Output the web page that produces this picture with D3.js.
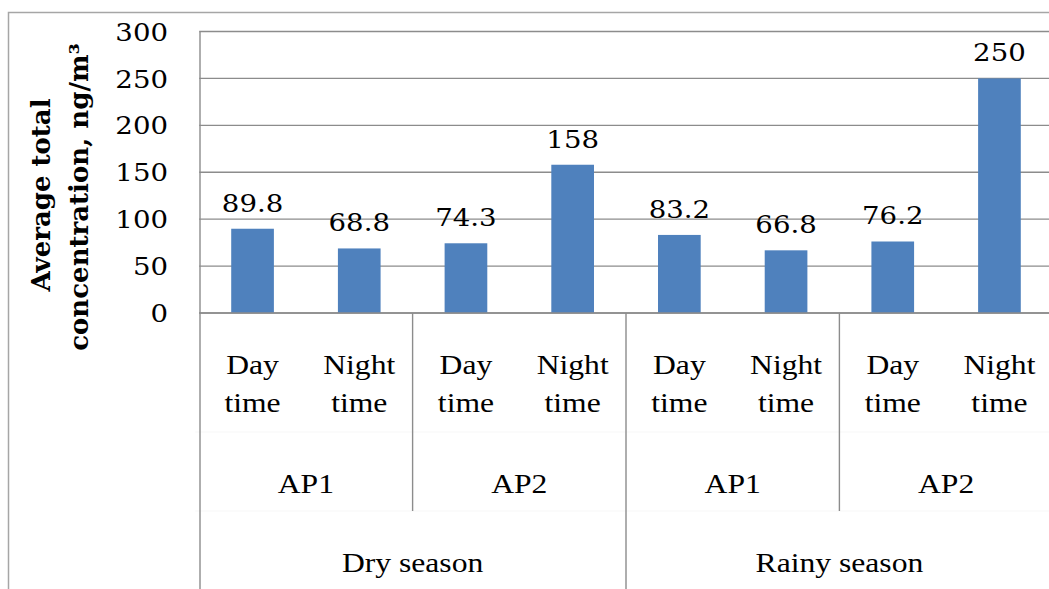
<!DOCTYPE html>
<html>
<head>
<meta charset="utf-8">
<script src="https://cdn.jsdelivr.net/npm/d3@7"></script>
<style>
  html, body { margin: 0; padding: 0; background: #fff; }
  svg { display: block; }
</style>
</head>
<body>
<svg id="chart"></svg>
<script>
// data
const seasons = ["Dry season", "Rainy season"];
const sites = ["AP1", "AP2"];
const periods = ["Day time", "Night time"];
const values = [89.8, 68.8, 74.3, 158, 83.2, 66.8, 76.2, 250];
const valueLabels = ["89.8", "68.8", "74.3", "158", "83.2", "66.8", "76.2", "250"];
const yTicks = [0, 50, 100, 150, 200, 250, 300];

const width = 1049, height = 589;
const plotLeft = 199.2, plotRight = 1052.8, plotTop = 31.5, plotBottom = 313;
const serif = "'Liberation Serif', 'Times New Roman', serif";
const digits = "'DejaVu Serif', serif";
const stretch = 1.15;

// flatten to one row per bar
const rows = [];
seasons.forEach(s => sites.forEach(a => periods.forEach(p => rows.push({season: s, site: a, period: p}))));
rows.forEach((d, i) => { d.key = i; d.value = values[i]; d.label = valueLabels[i]; });

const x = d3.scaleBand()
  .domain(rows.map(d => d.key))
  .range([plotLeft, plotRight])
  .paddingInner(0.6)
  .paddingOuter(0.3);
const step = x.step();
const xEdge = i => plotLeft + i * step;   // boundary between categories

const y = d3.scaleLinear()
  .domain([0, 300])
  .range([plotBottom, plotTop]);

const svg = d3.select("#chart")
  .attr("width", width)
  .attr("height", height)
  .attr("viewBox", [0, 0, width, height]);

// chart border (cut at right and bottom)
svg.append("path")
  .attr("d", `M8.5,${height}V12.5H${width}`)
  .attr("fill", "none")
  .attr("stroke", "#a6a6a6")
  .attr("stroke-width", 1.5);

// gridlines
svg.append("g")
  .selectAll("line")
  .data(yTicks)
  .join("line")
  .attr("x1", plotLeft)
  .attr("x2", plotRight)
  .attr("y1", d => y(d))
  .attr("y2", d => y(d))
  .attr("stroke", "#8c8c8c")
  .attr("stroke-width", 1.4);

// y tick labels
svg.append("g")
  .attr("font-family", digits)
  .attr("font-size", 24)
  .attr("text-anchor", "end")
  .selectAll("text")
  .data(yTicks)
  .join("text")
  .attr("transform", d => `translate(168,${y(d)}) scale(${stretch},1)`)
  .attr("dy", "0.38em")
  .text(d => d);

// y title
const title = svg.append("g")
  .attr("font-family", "'DejaVu Serif', serif")
  .attr("font-weight", "bold")
  .attr("font-size", 26)
  .attr("text-anchor", "middle");
title.append("text")
  .attr("transform", "translate(50,195) rotate(-90)")
  .text("Average total");
title.append("text")
  .attr("transform", "translate(88,197) rotate(-90)")
  .text("concentration, ng/m³");

// bars
svg.append("g")
  .selectAll("rect")
  .data(rows)
  .join("rect")
  .attr("x", d => x(d.key))
  .attr("width", x.bandwidth())
  .attr("y", d => y(d.value))
  .attr("height", d => y(0) - y(d.value))
  .attr("fill", "#4f81bd");

// value labels
svg.append("g")
  .attr("font-family", digits)
  .attr("font-size", 24)
  .attr("text-anchor", "middle")
  .selectAll("text")
  .data(rows)
  .join("text")
  .attr("transform", d => `translate(${x(d.key) + x.bandwidth() / 2},${y(d.value) - 17}) scale(${stretch},1)`)
  .text(d => d.label);

// category axis frame
const axis = svg.append("g")
  .attr("stroke", "#8c8c8c")
  .attr("stroke-width", 1.4);
axis.append("line")
  .attr("x1", plotLeft).attr("x2", plotRight)
  .attr("y1", plotBottom).attr("y2", plotBottom);
// faint level dividers
axis.selectAll(".lvl")
  .data([432, 511])
  .join("line")
  .attr("x1", plotLeft - 4).attr("x2", plotRight)
  .attr("y1", d => d).attr("y2", d => d)
  .attr("stroke", "#f7f7f7")
  .attr("stroke-width", 1);
axis.append("line")
  .attr("x1", plotLeft + 0.8).attr("x2", plotLeft + 0.8)
  .attr("y1", plotTop).attr("y2", height);
// site separators
axis.selectAll(".site")
  .data([2, 6])
  .join("line")
  .attr("x1", d => xEdge(d)).attr("x2", d => xEdge(d))
  .attr("y1", plotBottom).attr("y2", 511);
// season separator
axis.append("line")
  .attr("x1", xEdge(4)).attr("x2", xEdge(4))
  .attr("y1", plotBottom).attr("y2", height);

const labels = svg.append("g")
  .attr("font-family", serif)
  .attr("font-size", 27.5)
  .attr("text-anchor", "middle");

// period labels, two lines
labels.selectAll(".period")
  .data(rows)
  .join("g")
  .attr("transform", d => `translate(${x(d.key) + x.bandwidth() / 2},0)`)
  .each(function(d) {
    const parts = d.period.split(" ");
    d3.select(this).selectAll("text")
      .data(parts)
      .join("text")
      .attr("transform", (t, i) => `translate(0,${374 + i * 37.5}) scale(${stretch},1)`)
      .text(t => t);
  });

// site labels
const siteGroups = [];
seasons.forEach((s, si) => sites.forEach((a, ai) => siteGroups.push({name: a, i: si * 2 + ai})));
labels.selectAll(".site")
  .data(siteGroups)
  .join("text")
  .attr("transform", d => `translate(${xEdge(d.i * 2) + step},492.5) scale(${stretch},1)`)
  .text(d => d.name);

// season labels
labels.selectAll(".season")
  .data(seasons)
  .join("text")
  .attr("transform", (d, i) => `translate(${xEdge(i * 4) + 2 * step},571.5) scale(${stretch},1)`)
  .text(d => d);
</script>
</body>
</html>
